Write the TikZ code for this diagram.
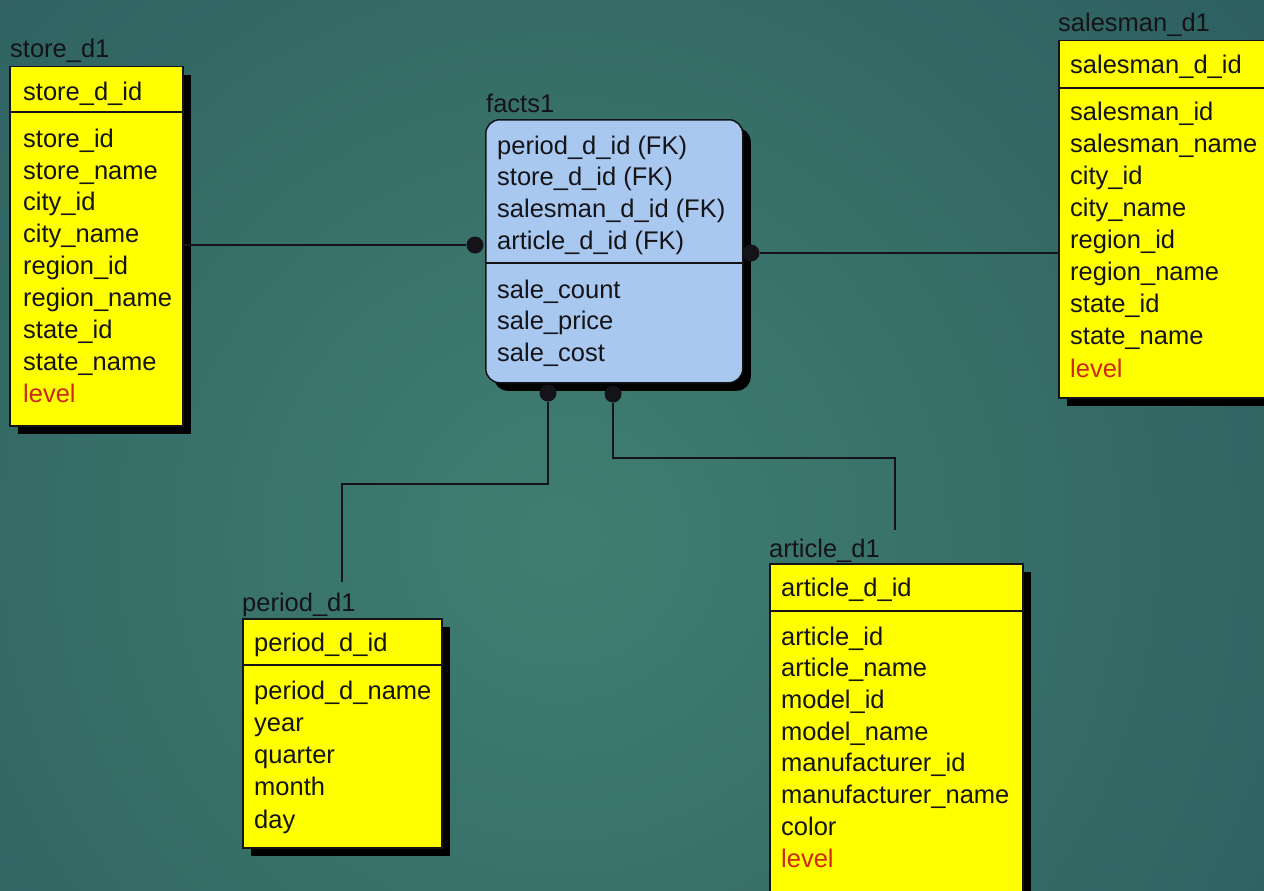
\documentclass[tikz,border=0pt]{standalone}
\usepackage{fontspec}
\setmainfont{Liberation Sans}
\usetikzlibrary{shadows}

\definecolor{bginner}{RGB}{64,126,113}
\definecolor{bgouter}{RGB}{32,74,84}
\definecolor{dimyellow}{RGB}{255,255,0}
\definecolor{factblue}{RGB}{168,200,240}
\definecolor{ink}{RGB}{20,20,24}
\definecolor{levelred}{RGB}{205,40,20}

\tikzset{
  dimtable/.style={draw=ink, line width=1.5pt, fill=dimyellow, anchor=north west,
    inner sep=0pt,
    drop shadow={shadow xshift=8pt, shadow yshift=-8pt, opacity=1, fill=black}},
  facttable/.style={dimtable, fill=factblue, rounded corners=14pt},
  attr/.style={anchor=mid west, inner sep=0pt, text=ink, yshift=-5.5pt,
    font=\fontsize{25.5}{30}\selectfont},
  levelattr/.style={attr, text=levelred},
  tabletitle/.style={attr},
  rule/.style={draw=ink, line width=1.5pt},
  conn/.style={draw=ink, line width=2pt},
  joint/.style={circle, fill=ink, inner sep=0pt, minimum size=17pt},
}

\begin{document}
\begin{tikzpicture}[x=1pt,y=-1pt]
\useasboundingbox (0,0) rectangle (1264,891);
\clip (0,0) rectangle (1264,891);

% background
\shade[inner color=bginner, outer color=bgouter] (560,540) circle (1500pt);

% ---------- store_d1 ----------
\node[dimtable, minimum width=173pt, minimum height=359pt] (store) at (9,66) {};
\draw[rule] (store.west |- 0,112) -- (store.east |- 0,112);
\node[tabletitle] (store-t) at (10,49) {store\_d1};
\node[attr] (store-k) at (23,92) {store\_d\_id};
\foreach \t [count=\i from 0] in {store\_id, store\_name, city\_id, city\_name,
    region\_id, region\_name, state\_id, state\_name}
  \node[attr] (store-f\i) at (23,{139+31.9*\i}) {\t};
\node[levelattr] (store-lv) at (23,394) {level};

% ---------- facts1 ----------
\node[facttable, minimum width=257pt, minimum height=263pt] (facts) at (485,119) {};
\draw[rule] (facts.west |- 0,263) -- (facts.east |- 0,263);
\node[tabletitle] (facts-t) at (486,104) {facts1};
\foreach \t [count=\i from 0] in {period\_d\_id (FK), store\_d\_id (FK),
    salesman\_d\_id (FK), article\_d\_id (FK)}
  \node[attr] (facts-k\i) at (497,{146+31.7*\i}) {\t};
\foreach \t [count=\i from 0] in {sale\_count, sale\_price, sale\_cost}
  \node[attr] (facts-f\i) at (497,{290+31.5*\i}) {\t};

% ---------- salesman_d1 ----------
\node[dimtable, minimum width=240pt, minimum height=357pt] (salesman) at (1058,40) {};
\draw[rule] (salesman.west |- 0,88) -- (salesman.east |- 0,88);
\node[tabletitle] (salesman-t) at (1058,23) {salesman\_d1};
\node[attr] (salesman-k) at (1070,65) {salesman\_d\_id};
\foreach \t [count=\i from 0] in {salesman\_id, salesman\_name, city\_id, city\_name,
    region\_id, region\_name, state\_id, state\_name}
  \node[attr] (salesman-f\i) at (1070,{112+32.1*\i}) {\t};
\node[levelattr] (salesman-lv) at (1070,369) {level};

% ---------- period_d1 ----------
\node[dimtable, minimum width=199pt, minimum height=229pt] (period) at (242,618) {};
\draw[rule] (period.west |- 0,665) -- (period.east |- 0,665);
\node[tabletitle] (period-t) at (242,603) {period\_d1};
\node[attr] (period-k) at (254,643) {period\_d\_id};
\foreach \t [count=\i from 0] in {period\_d\_name, year, quarter, month, day}
  \node[attr] (period-f\i) at (254,{691+32.25*\i}) {\t};

% ---------- article_d1 ----------
\node[dimtable, minimum width=253pt, minimum height=345pt] (article) at (769,563) {};
\draw[rule] (article.west |- 0,611) -- (article.east |- 0,611);
\node[tabletitle] (article-t) at (769,549) {article\_d1};
\node[attr] (article-k) at (781,588) {article\_d\_id};
\foreach \t [count=\i from 0] in {article\_id, article\_name, model\_id, model\_name,
    manufacturer\_id, manufacturer\_name, color}
  \node[attr] (article-f\i) at (781,{637+31.7*\i}) {\t};
\node[levelattr] (article-lv) at (781,859) {level};

% ---------- relationship ends on facts1 ----------
\node[joint] (d-store)   at (475,245) {};
\node[joint] (d-sales)   at (751,253) {};
\node[joint] (d-period)  at (548,393) {};
\node[joint] (d-article) at (613,394) {};

\coordinate (pbend) at (342,484);
\coordinate (pend)  at (342,582);
\coordinate (abend) at (895,458);
\coordinate (aend)  at (895,530);

% ---------- connectors ----------
\draw[conn] (store.east |- d-store) -- (d-store);
\draw[conn] (d-sales) -- (d-sales -| salesman.west);
\draw[conn] (d-period) |- (pbend) -- (pend);
\draw[conn] (d-article) |- (abend) -- (aend);
\end{tikzpicture}
\end{document}
